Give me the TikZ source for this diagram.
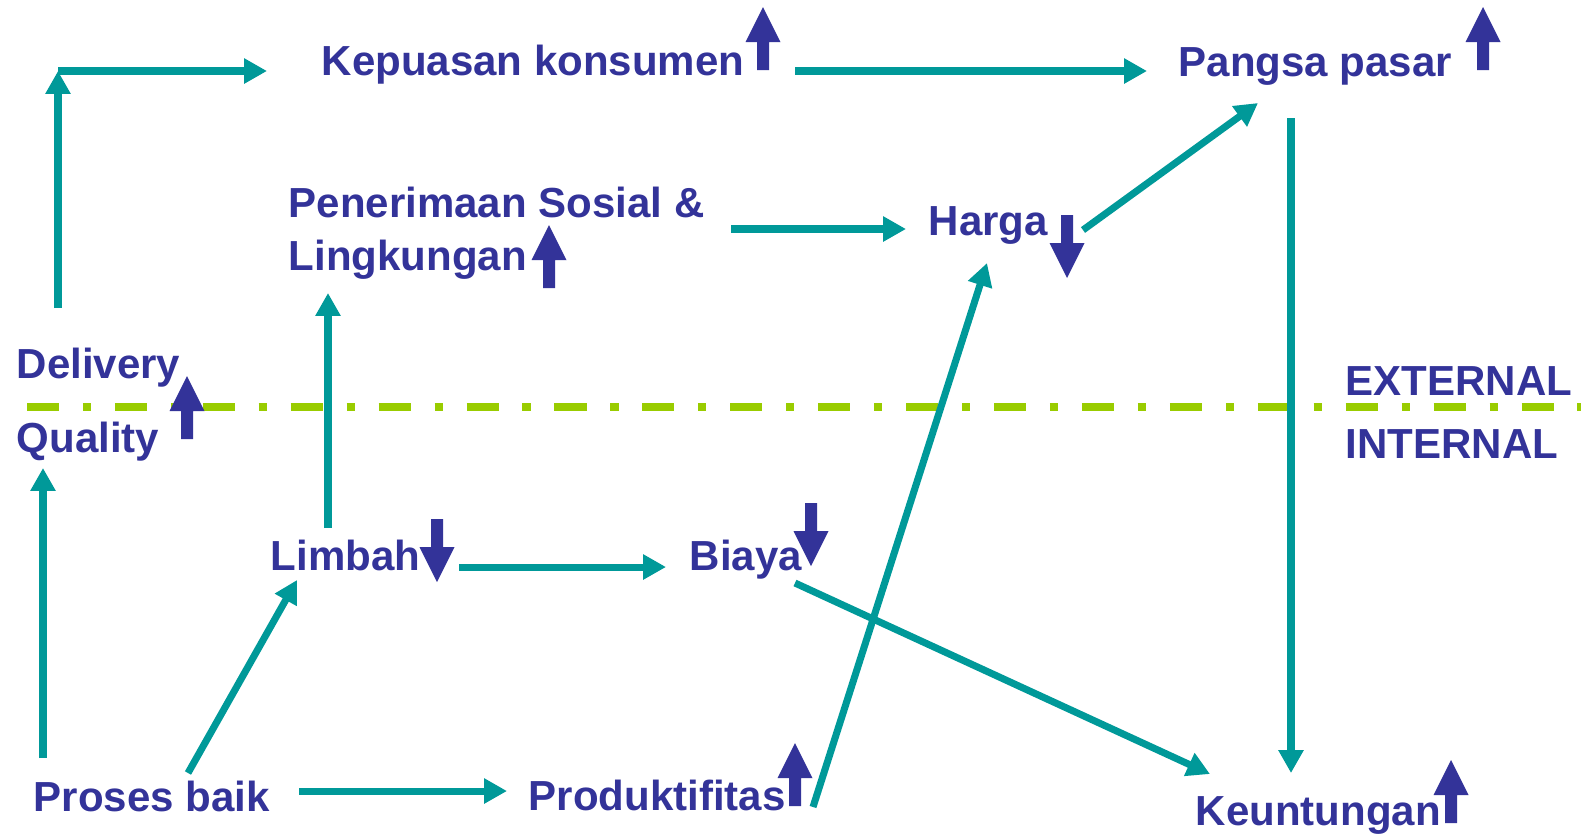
\documentclass[tikz,border=0pt]{standalone}
\usepackage{fontspec}
\setmainfont{Liberation Sans}
\usetikzlibrary{arrows.meta}
\definecolor{ink}{HTML}{333399}
\definecolor{linkteal}{HTML}{009999}
\definecolor{sepgreen}{HTML}{99CC00}
\tikzset{
	lbl/.style={anchor=base west, inner sep=0pt, text=ink, align=left, font=\fontsize{11.95}{15}\selectfont\bfseries},
	link/.style={draw=linkteal, line width=2pt, -{Triangle[length=6.5pt, width=6.8pt]}},
	upmark/.pic={\fill[ink] (0,0) -- (17.5,35) -- (6,35) -- (6,63) -- (-6,63) -- (-6,35) -- (-17.5,35) -- cycle;},
	downmark/.pic={\fill[ink] (0,0) -- (17.5,-35) -- (6,-35) -- (6,-63) -- (-6,-63) -- (-6,-35) -- (-17.5,-35) -- cycle;}
}
\begin{document}
\begin{tikzpicture}[x=0.01cm, y=-0.01cm]
	\useasboundingbox (0,0) rectangle (1581,835);
	\draw[sepgreen, line width=2.3pt, dash pattern=on 9.1pt off 6.8pt on 2.3pt off 6.8pt] (27,407) -- (1581,407);

	\node[lbl] (kep) at (321,75) {Kepuasan konsumen};
	\node[lbl] (pangsa) at (1178,76) {Pangsa pasar};
	\node[lbl] (pener) at (288,270) {Penerimaan Sosial \&\\Lingkungan};
	\node[lbl] (harga) at (928,235) {Harga};
	\node[lbl] (deliv) at (16,378) {Delivery};
	\node[lbl] (qual) at (16,452) {Quality};
	\node[lbl] (ext) at (1345,395) {EXTERNAL};
	\node[lbl] (int) at (1345,458) {INTERNAL};
	\node[lbl] (limbah) at (270,570) {Limbah};
	\node[lbl] (biaya) at (689,570) {Biaya};
	\node[lbl] (proses) at (33,811) {Proses baik};
	\node[lbl] (prod) at (528,810) {Produktifitas};
	\node[lbl] (keun) at (1195,825) {Keuntungan};

	\pic at (763,7) {upmark};
	\pic at (1483,7) {upmark};
	\pic at (549,225) {upmark};
	\pic at (1067,278) {downmark};
	\pic at (187,376) {upmark};
	\pic at (437,582) {downmark};
	\pic at (811,566) {downmark};
	\pic at (795,743) {upmark};
	\pic at (1451,760) {upmark};

	\coordinate (corner) at (58,71);
	\draw[link] ([shift={(10,-53)}]proses.base west) -- ([shift={(27,16)}]qual.base west);
	\draw[link] ([shift={(42,-70)}]deliv.base west) -- (corner);
	\draw[link] (corner) -- ([shift={(-54,-4)}]kep.base west);
	\draw[link] ([shift={(474,-4)}]kep.base west) -- ([shift={(-31,-5)}]pangsa.base west);
	\draw[link] ([shift={(443,-41)}]pener.base west) -- ([shift={(-22,-6)}]harga.base west);
	\draw[link] ([shift={(155,-5)}]harga.base west) -- ([shift={(80,27)}]pangsa.base west);
	\draw[link] ([shift={(113,42)}]pangsa.base west) -- ([shift={(96,-52)}]keun.base west);
	\draw[link] ([shift={(58,-42)}]limbah.base west) -- ([shift={(40,23)}]pener.base west);
	\draw[link] ([shift={(189,-3)}]limbah.base west) -- ([shift={(-23,-3)}]biaya.base west);
	\draw[link] ([shift={(106,13)}]biaya.base west) -- ([shift={(15,-51)}]keun.base west);
	\draw[link] ([shift={(155,-38)}]proses.base west) -- ([shift={(27,10)}]limbah.base west);
	\draw[link] ([shift={(266,-20)}]proses.base west) -- ([shift={(-21,-19)}]prod.base west);
	\draw[link] ([shift={(285,-3)}]prod.base west) -- ([shift={(59,28)}]harga.base west);
\end{tikzpicture}
\end{document}
